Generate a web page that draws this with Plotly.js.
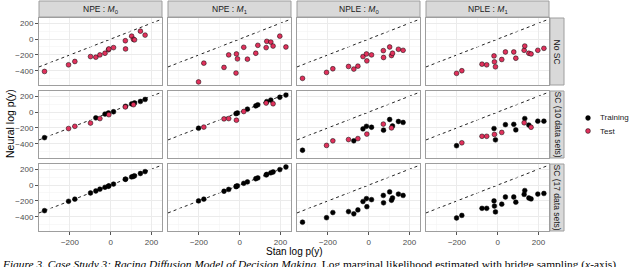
<!DOCTYPE html>
<html>
<head>
<meta charset="utf-8">
<script src="https://cdn.plot.ly/plotly-3.0.1.min.js"></script>
<style>
html,body{margin:0;padding:0;background:#fff;}
#chart{width:640px;height:267px;}
</style>
</head>
<body>
<div id="chart"></div>
<script>
// ---------------- DATA ----------------
// Stan (bridge sampling) log marginal likelihood, 17 data sets, per model
const stanM0 = [-325, -207, -176, -99, -73, -53, -28, -11, -9, 14, 72, 73, 103, 112, 117, 146, 169];
const stanM1 = [-202, -176, -77, -54, -18, -16, -11, 20, 38, 79, 89, 130, 133, 153, 164, 197, 227];
// 1 = used in training (SC with 10 data sets), 0 = test
const splitM0 = [1, 0, 0, 0, 1, 0, 1, 1, 0, 1, 0, 1, 1, 0, 1, 1, 1];
const splitM1 = [1, 0, 0, 0, 1, 0, 1, 0, 1, 1, 1, 0, 1, 1, 0, 1, 1];

// Neural estimates
const npeM0_noSC  = [-409, -325, -283, -221, -229, -200, -179, -135, -125, -108, -21, -125, 37, -4, -10, 100, 50];
const npeM0_sc10  = [-323, -208, -180, -139, -73, -82, -25, -12, -33, 4, 65, 73, 103, 93, 115, 134, 159];
const npeM0_sc17  = [-323, -205, -178, -100, -75, -52, -28, -15, -10, 12, 72, 75, 103, 110, 117, 146, 170];

const npeM1_noSC  = [-541, -304, -358, -200, -429, -188, -250, -104, -254, -179, -79, -108, -29, -38, -88, 37, -100];
const npeM1_sc10  = [-204, -190, -86, -82, -20, -103, -12, 7, 37, 78, 92, 114, 133, 152, 105, 187, 215];
const npeM1_sc17  = [-200, -178, -78, -55, -20, -15, -10, 22, 40, 80, 90, 128, 135, 155, 165, 195, 228];

const npleM0_noSC = [-496, -421, -375, -346, -379, -342, -221, -188, -275, -200, -146, -233, -100, -208, -179, -129, -142];
const npleM0_sc10 = [-482, -421, -363, -347, -363, -335, -213, -180, -278, -192, -152, -229, -94, -200, -176, -119, -131];
const npleM0_sc17 = [-469, -412, -347, -335, -363, -314, -208, -171, -273, -184, -131, -224, -86, -192, -163, -114, -131];

const npleM1_noSC = [-433, -400, -317, -325, -213, -288, -350, -258, -163, -163, -242, -142, -88, -179, -188, -142, -117];
const npleM1_sc10 = [-425, -388, -306, -306, -208, -282, -351, -257, -159, -155, -225, -135, -82, -164, -192, -115, -115];
const npleM1_sc17 = [-416, -383, -294, -294, -200, -265, -339, -241, -151, -151, -216, -118, -69, -163, -175, -114, -106];

const colLabels = ['NPE : <i>M</i><sub>0</sub>', 'NPE : <i>M</i><sub>1</sub>', 'NPLE : <i>M</i><sub>0</sub>', 'NPLE : <i>M</i><sub>1</sub>'];
const rowLabels = ['No SC', 'SC (10 data sets)', 'SC (17 data sets)'];
const xTicks = [-200, 0, 200];
const yTicks = [-400, -200, 0, 200];
const xMinor = [-300, -100, 100];
const yMinor = [-500, -300, -100, 100];
const groupNames = ['Training', 'Test'];

// ---------------- LAYOUT GEOMETRY ----------------
const W = 640, H = 267;
const colPx = [[39, 162], [168, 291], [297, 420], [426, 549]];
const rowPx = [[18, 85], [91, 158], [164, 231]];
const xRange = [-352, 252];
const yRange = [-580, 266];
const fx = p => p / W;
const fy = p => 1 - p / H;

const colsData = [
  {x: stanM0, split: splitM0, y: [npeM0_noSC, npeM0_sc10, npeM0_sc17]},
  {x: stanM1, split: splitM1, y: [npeM1_noSC, npeM1_sc10, npeM1_sc17]},
  {x: stanM0, split: splitM0, y: [npleM0_noSC, npleM0_sc10, npleM0_sc17]},
  {x: stanM1, split: splitM1, y: [npleM1_noSC, npleM1_sc10, npleM1_sc17]}
];

const groupColor = {Training: '#000000', Test: '#E0315C'};
const borderColor = '#9E9E9E';

const traces = [];
const layout = {
  width: W, height: H,
  margin: {l: 0, r: 0, t: 0, b: 0},
  paper_bgcolor: '#fff', plot_bgcolor: '#fff',
  font: {family: 'Liberation Sans, Arial, sans-serif', color: '#000'},
  showlegend: false,
  shapes: [], annotations: []
};

for (let r = 0; r < 3; r++) {
  for (let c = 0; c < 4; c++) {
    const k = r * 4 + c + 1;
    const xa = k === 1 ? 'xaxis' : 'xaxis' + k;
    const ya = k === 1 ? 'yaxis' : 'yaxis' + k;
    const xr = k === 1 ? 'x' : 'x' + k;
    const yr = k === 1 ? 'y' : 'y' + k;
    const bottom = r === 2, left = c === 0;
    layout[xa] = {
      domain: [fx(colPx[c][0]), fx(colPx[c][1])], anchor: yr,
      range: xRange, tickmode: 'array', tickvals: xTicks,
      showticklabels: bottom, ticks: bottom ? 'outside' : '', ticklen: 3, tickwidth: 1, tickcolor: '#555',
      tickfont: {size: 8, color: '#4D4D4D'},
      showgrid: true, gridcolor: '#EBEBEB', gridwidth: 1,
      minor: {tickmode: 'array', tickvals: xMinor, showgrid: true, gridcolor: '#F4F4F4', gridwidth: 0.6, ticks: ''},
      zeroline: false, showline: true, mirror: true, linecolor: borderColor, linewidth: 1,
      fixedrange: true
    };
    layout[ya] = {
      domain: [fy(rowPx[r][1]), fy(rowPx[r][0])], anchor: xr,
      range: yRange, tickmode: 'array', tickvals: yTicks,
      showticklabels: left, ticks: left ? 'outside' : '', ticklen: 3, tickwidth: 1, tickcolor: '#555',
      tickfont: {size: 8, color: '#4D4D4D'},
      showgrid: true, gridcolor: '#EBEBEB', gridwidth: 1,
      minor: {tickmode: 'array', tickvals: yMinor, showgrid: true, gridcolor: '#F4F4F4', gridwidth: 0.6, ticks: ''},
      zeroline: false, showline: true, mirror: true, linecolor: borderColor, linewidth: 1,
      fixedrange: true
    };
    // identity line
    layout.shapes.push({
      type: 'line', xref: xr, yref: yr,
      x0: xRange[0], y0: xRange[0], x1: xRange[1], y1: xRange[1],
      line: {color: '#222', width: 1, dash: '3px,3px'}, layer: 'below'
    });
    const d = colsData[c];
    const ys = d.y[r];
    const groups = {Training: {x: [], y: []}, Test: {x: [], y: []}};
    for (let i = 0; i < d.x.length; i++) {
      let isTrain;
      if (r === 0) isTrain = false;
      else if (r === 1) isTrain = d.split[i] === 1;
      else isTrain = true;
      const g = isTrain ? 'Training' : 'Test';
      groups[g].x.push(d.x[i]);
      groups[g].y.push(ys[i]);
    }
    for (const g of groupNames) {
      if (groups[g].x.length === 0) continue;
      traces.push({
        type: 'scatter', mode: 'markers', name: g, showlegend: false,
        x: groups[g].x, y: groups[g].y, xaxis: xr, yaxis: yr,
        marker: {size: 4.8, color: groupColor[g], line: {color: '#000', width: 0.5}},
        cliponaxis: true, hoverinfo: 'skip'
      });
    }
  }
}

// legend (keys + labels)
groupNames.forEach((g, i) => {
  const cy = 118 + i * 13;
  layout.shapes.push({
    type: 'circle', xref: 'paper', yref: 'paper',
    x0: fx(585.6), x1: fx(590.4), y0: fy(cy + 2.4), y1: fy(cy - 2.4),
    fillcolor: groupColor[g], line: {color: '#000', width: 0.5}
  });
  layout.annotations.push({
    xref: 'paper', yref: 'paper', x: fx(598), y: fy(cy),
    text: g, showarrow: false, xanchor: 'left', yanchor: 'middle',
    font: {size: 8, color: '#1A1A1A'}
  });
});

// top strips
for (let c = 0; c < 4; c++) {
  layout.shapes.push({
    type: 'rect', xref: 'paper', yref: 'paper',
    x0: fx(colPx[c][0]), x1: fx(colPx[c][1]), y0: fy(17), y1: fy(1),
    fillcolor: '#D9D9D9', line: {color: borderColor, width: 1}, layer: 'above'
  });
  layout.annotations.push({
    xref: 'paper', yref: 'paper', x: fx((colPx[c][0] + colPx[c][1]) / 2), y: fy(9.5),
    text: colLabels[c], showarrow: false, xanchor: 'center', yanchor: 'middle',
    font: {size: 8.5, color: '#1A1A1A'}
  });
}
// right strips
for (let r = 0; r < 3; r++) {
  layout.shapes.push({
    type: 'rect', xref: 'paper', yref: 'paper',
    x0: fx(550), x1: fx(564), y0: fy(rowPx[r][1]), y1: fy(rowPx[r][0]),
    fillcolor: '#D9D9D9', line: {color: borderColor, width: 1}, layer: 'above'
  });
  layout.annotations.push({
    xref: 'paper', yref: 'paper', x: fx(557), y: fy((rowPx[r][0] + rowPx[r][1]) / 2),
    text: rowLabels[r], showarrow: false, textangle: 90, xanchor: 'center', yanchor: 'middle',
    font: {size: 8.5, color: '#1A1A1A'}
  });
}
// axis titles
layout.annotations.push({
  xref: 'paper', yref: 'paper', x: fx(10), y: fy(124),
  text: 'Neural log p(y)', showarrow: false, textangle: -90, xanchor: 'center', yanchor: 'middle',
  font: {size: 10.5, color: '#000'}
});
layout.annotations.push({
  xref: 'paper', yref: 'paper', x: fx(294), y: fy(251.5),
  text: 'Stan log p(y)', showarrow: false, xanchor: 'center', yanchor: 'middle',
  font: {size: 10, color: '#000'}
});
// caption
layout.annotations.push({
  xref: 'paper', yref: 'paper', x: fx(0), y: fy(264),
  text: '<i>Figure 3. Case Study 3: Racing Diffusion Model of Decision Making.</i> Log marginal likelihood estimated with bridge sampling (<i>x</i>-axis)',
  showarrow: false, xanchor: 'left', yanchor: 'middle',
  font: {size: 11.4, color: '#000', family: 'Liberation Serif, Times New Roman, serif'}
});

Plotly.newPlot('chart', traces, layout, {displayModeBar: false, staticPlot: true});
</script>
</body>
</html>
